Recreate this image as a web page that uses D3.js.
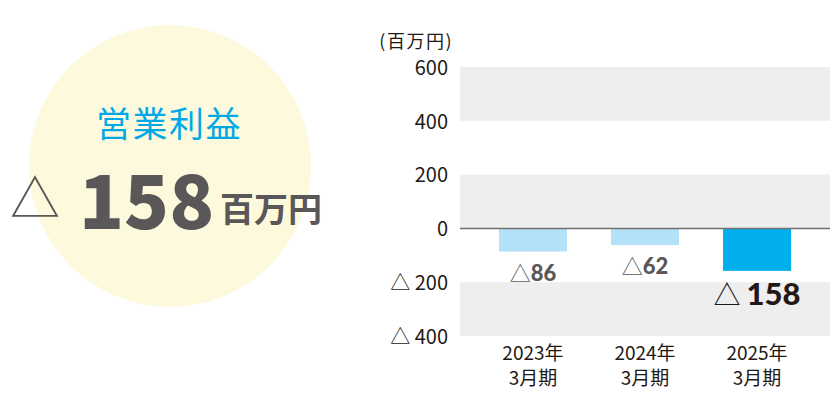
<!DOCTYPE html>
<html>
<head>
<meta charset="utf-8">
<script src="https://cdn.jsdelivr.net/npm/d3@7"></script>
<style>
  body { margin: 0; background: #fff; }
  svg { display: block; }
  text { font-family: "Noto Sans CJK JP", "Noto Sans", sans-serif; }
</style>
</head>
<body>
<script>
// chart data
var categories = ['2023年3月期', '2024年3月期', '2025年3月期'];
var yearLabels = ['2023年', '2024年', '2025年'];
var periodLabels = ['3月期', '3月期', '3月期'];
var values = [-86, -62, -158];
var yTicks = [600, 400, 200, 0, -200, -400];
var headlineTitle = '営業利益';
var headlineValue = 158;
var unitLabel = '百万円';

var svgWidth = 831, svgHeight = 414;

var svg = d3.select('body').append('svg')
  .attr('width', svgWidth)
  .attr('height', svgHeight);

// ---- left side: headline in a yellow circle ----
var badge = svg.append('g');
badge.append('circle')
  .attr('cx', 170).attr('cy', 166).attr('r', 141)
  .attr('fill', '#fdf9dc');

badge.append('text')
  .attr('x', 169).attr('y', 137)
  .attr('text-anchor', 'middle')
  .attr('font-size', 35)
  .attr('letter-spacing', 1.5)
  .attr('fill', '#00a9e6')
  .text(headlineTitle);

badge.append('text')
  .attr('x', 35).attr('y', 217)
  .attr('text-anchor', 'middle')
  .attr('font-size', 50)
  .attr('fill', '#595757')
  .text('△');

badge.append('text')
  .attr('x', 79).attr('y', 229)
  .attr('font-family', 'Lato, "Noto Sans", sans-serif')
  .attr('font-weight', 900)
  .attr('font-size', 74)
  .attr('fill', '#595757')
  .text(headlineValue);

badge.append('text')
  .attr('x', 220).attr('y', 222)
  .attr('font-weight', 'bold')
  .attr('font-size', 34)
  .attr('fill', '#595757')
  .text(unitLabel);

// ---- right side: bar chart ----
var plotLeft = 460, plotRight = 830;

var y = d3.scaleLinear()
  .domain([-400, 600])
  .range([336, 67]);

var x = d3.scaleBand()
  .domain(categories)
  .range([477, 813])
  .paddingInner(0.393)
  .paddingOuter(0.196);

var chartGroup = svg.append('g');

// grey bands between every other pair of ticks
var bands = [[600, 400], [200, 0], [-200, -400]];
chartGroup.selectAll('rect.band')
  .data(bands)
  .enter()
  .append('rect')
  .attr('class', 'band')
  .attr('x', plotLeft)
  .attr('width', plotRight - plotLeft)
  .attr('y', d => y(d[0]))
  .attr('height', d => y(d[1]) - y(d[0]))
  .attr('fill', '#eeeeee');

// y axis labels
var leftAxis = d3.axisLeft(y)
  .tickValues(yTicks)
  .tickSize(0)
  .tickPadding(0)
  .tickFormat(d => d < 0 ? '△ ' + Math.abs(d) : String(d));

var yAxis = chartGroup.append('g')
  .attr('transform', 'translate(448,0)')
  .call(leftAxis);
yAxis.select('.domain').remove();
yAxis.selectAll('text')
  .attr('font-family', '"Noto Sans CJK JP", sans-serif')
  .attr('font-size', 20)
  .attr('fill', '#231815')
  .attr('dy', '0.36em');

// unit label
chartGroup.append('text')
  .attr('x', 453).attr('y', 48)
  .attr('text-anchor', 'end')
  .attr('font-size', 18)
  .attr('letter-spacing', 1.5)
  .attr('fill', '#231815')
  .text('(' + unitLabel + ')');

// bars
chartGroup.selectAll('rect.bar')
  .data(values)
  .enter()
  .append('rect')
  .attr('class', 'bar')
  .attr('x', (d, i) => x(categories[i]))
  .attr('width', x.bandwidth())
  .attr('y', d => y(Math.max(0, d)))
  .attr('height', d => Math.abs(y(d) - y(0)))
  .attr('fill', (d, i) => i === values.length - 1 ? '#00afec' : '#b3e1f7');

// zero line
chartGroup.append('line')
  .attr('x1', plotLeft).attr('x2', plotRight)
  .attr('y1', y(0)).attr('y2', y(0))
  .attr('stroke', '#727171')
  .attr('stroke-width', 1.5);

// value labels under bars
var valueLabels = chartGroup.selectAll('text.value')
  .data(values)
  .enter()
  .append('text')
  .attr('class', 'value')
  .attr('x', (d, i) => x(categories[i]) + x.bandwidth() / 2)
  .attr('y', (d, i) => y(d) + (i === values.length - 1 ? 34 : 29))
  .attr('text-anchor', 'middle')
  .attr('fill', (d, i) => i === values.length - 1 ? '#231815' : '#595757');

valueLabels.append('tspan')
  .attr('font-size', (d, i) => i === values.length - 1 ? 27 : 21)
  .attr('font-weight', 'normal')
  .text((d, i) => i === values.length - 1 ? '△ ' : '△');

valueLabels.append('tspan')
  .attr('font-family', 'Lato, "Noto Sans", sans-serif')
  .attr('font-weight', 900)
  .attr('font-size', (d, i) => i === values.length - 1 ? 31 : 22)
  .text(d => Math.abs(d));

// x axis category labels (two lines)
chartGroup.selectAll('text.year')
  .data(categories)
  .enter()
  .append('text')
  .attr('class', 'year')
  .attr('x', d => x(d) + x.bandwidth() / 2)
  .attr('y', 360)
  .attr('text-anchor', 'middle')
  .attr('font-size', 19)
  .attr('fill', '#231815')
  .text((d, i) => yearLabels[i]);

chartGroup.selectAll('text.period')
  .data(categories)
  .enter()
  .append('text')
  .attr('class', 'period')
  .attr('x', d => x(d) + x.bandwidth() / 2)
  .attr('y', 385)
  .attr('text-anchor', 'middle')
  .attr('font-size', 19)
  .attr('fill', '#231815')
  .text((d, i) => periodLabels[i]);
</script>
</body>
</html>
